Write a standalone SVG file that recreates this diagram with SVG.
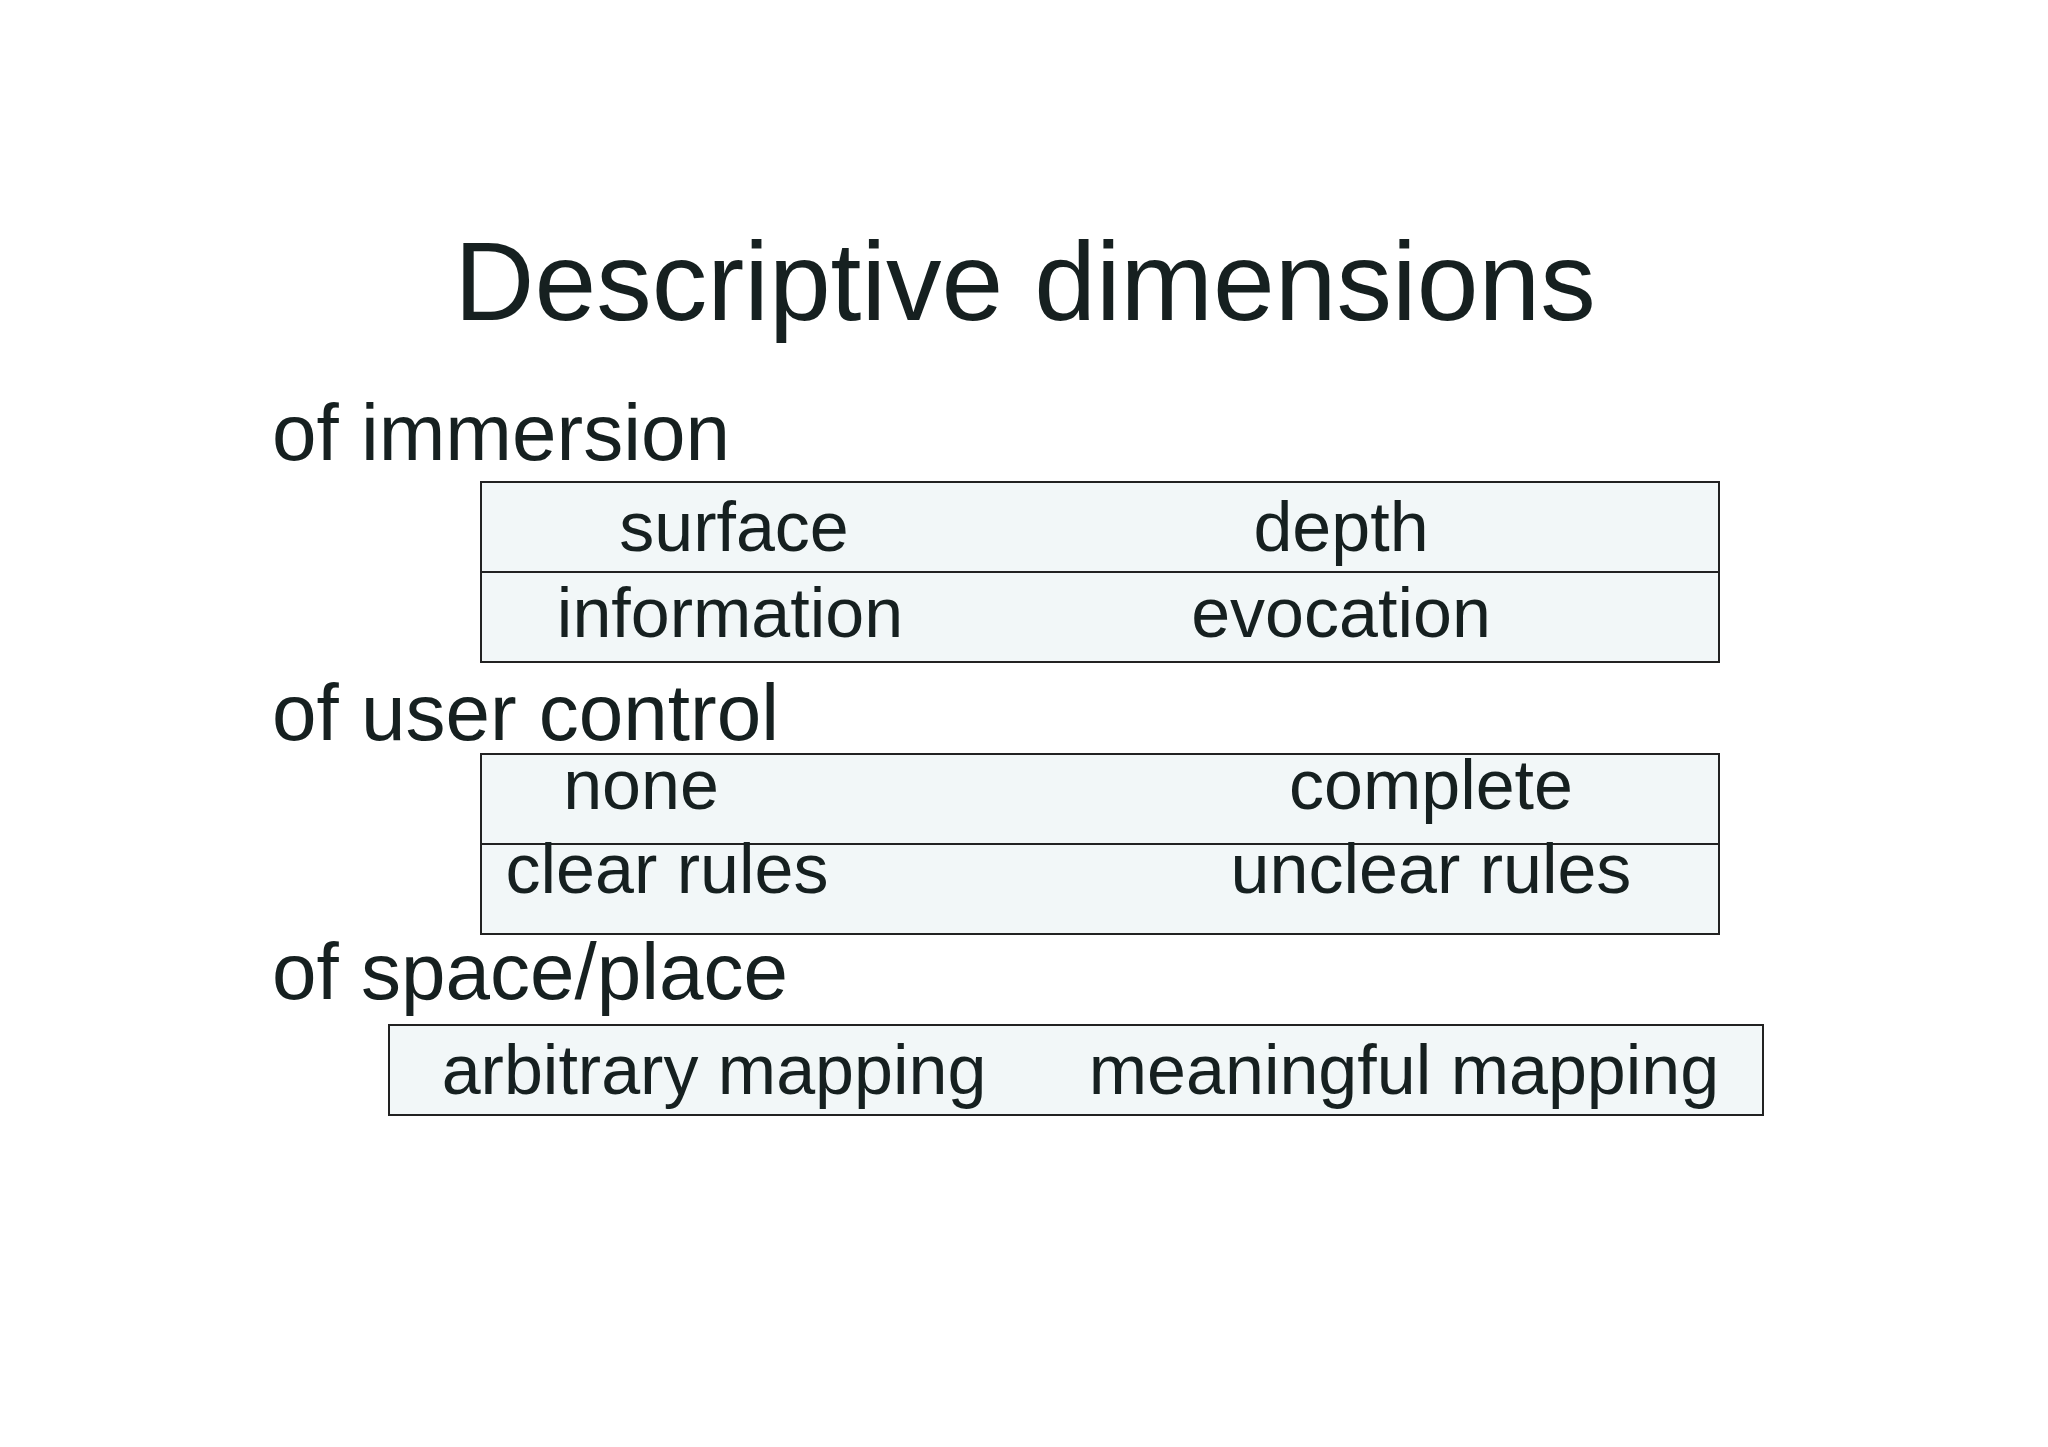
<svg xmlns="http://www.w3.org/2000/svg" width="2048" height="1447" viewBox="0 0 2048 1447">
<style>
text{font-family:"Liberation Sans",Arial,sans-serif;fill:#162020}
.t{font-size:111px;text-anchor:middle}
.h{font-size:80px}
.c{font-size:70px;text-anchor:middle}
.b{fill:#f2f7f8;stroke:#222;stroke-width:2}
</style>
<rect width="2048" height="1447" fill="#fff"/>
<text class="t" x="1025" y="320">Descriptive dimensions</text>
<text class="h" x="272" y="460">of immersion</text>
<g id="immersion">
<rect class="b" x="481" y="482" width="1238" height="180"/>
<line x1="481" y1="572" x2="1719" y2="572" stroke="#222" stroke-width="2"/>
<text class="c" x="734" y="551">surface</text>
<text class="c" x="1341" y="551">depth</text>
<text class="c" x="730" y="637">information</text>
<text class="c" x="1341" y="637">evocation</text>
</g>
<text class="h" x="272" y="740">of user control</text>
<g id="control">
<rect class="b" x="481" y="754" width="1238" height="180"/>
<line x1="481" y1="844" x2="1719" y2="844" stroke="#222" stroke-width="2"/>
<text class="c" x="641" y="809">none</text>
<text class="c" x="1431" y="809">complete</text>
<text class="c" x="667" y="893">clear rules</text>
<text class="c" x="1431" y="893">unclear rules</text>
</g>
<text class="h" x="272" y="999">of space/place</text>
<g id="space">
<rect class="b" x="389" y="1025" width="1374" height="90"/>
<text class="c" x="714" y="1094">arbitrary mapping</text>
<text class="c" x="1404" y="1094">meaningful mapping</text>
</g>
</svg>
